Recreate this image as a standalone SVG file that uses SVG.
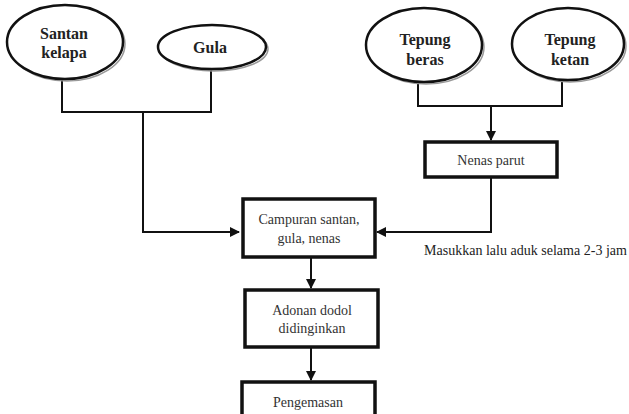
<svg xmlns="http://www.w3.org/2000/svg" width="629" height="414" viewBox="0 0 629 414">
<style>
.ell{fill:#fff;stroke:#111;stroke-width:2.5}
.sh{fill:none;stroke:#999;stroke-width:1.5}
.et{font-family:"Liberation Serif",serif;font-weight:bold;font-size:16px;fill:#222;text-anchor:middle}
.box{fill:#fff;stroke:#111;stroke-width:3.5}
.bt{font-family:"Liberation Serif",serif;font-size:14px;fill:#333;text-anchor:middle}
.ln{fill:none;stroke:#111;stroke-width:2}
</style>
<defs>
<marker id="ah" markerWidth="10" markerHeight="10" refX="9" refY="5" orient="auto" markerUnits="userSpaceOnUse">
<path d="M0,0 L10,5 L0,10 Z" fill="#111"/>
</marker>
</defs>
<rect width="629" height="414" fill="#fff"/>
<g id="connectors">
<path class="ln" d="M62,80 V112 H211 V70"/>
<path class="ln" d="M143,112 V232 H239" marker-end="url(#ah)"/>
<path class="ln" d="M418,82 V106 H562 V80"/>
<path class="ln" d="M491,106 V140" marker-end="url(#ah)"/>
<path class="ln" d="M491,177 V232 H377" marker-end="url(#ah)"/>
<path class="ln" d="M311,257 V288" marker-end="url(#ah)"/>
<path class="ln" d="M311,347 V380" marker-end="url(#ah)"/>
</g>
<g id="santan">
<ellipse class="sh" cx="67" cy="44" rx="58" ry="37"/>
<ellipse class="ell" cx="65" cy="42" rx="58" ry="37"/>
<text class="et" x="64" y="39">Santan</text>
<text class="et" x="64" y="58">kelapa</text>
</g>
<g id="gula">
<ellipse class="sh" cx="214" cy="49" rx="54" ry="22"/>
<ellipse class="ell" cx="212" cy="47" rx="54" ry="22"/>
<text class="et" x="210" y="53">Gula</text>
</g>
<g id="tepung-beras">
<ellipse class="sh" cx="426" cy="47" rx="58" ry="37"/>
<ellipse class="ell" cx="424" cy="45" rx="58" ry="37"/>
<text class="et" x="425" y="45">Tepung</text>
<text class="et" x="425" y="65">beras</text>
</g>
<g id="tepung-ketan">
<ellipse class="sh" cx="570" cy="46" rx="56" ry="36"/>
<ellipse class="ell" cx="568" cy="44" rx="56" ry="36"/>
<text class="et" x="570" y="45">Tepung</text>
<text class="et" x="570" y="65">ketan</text>
</g>
<g id="nenas">
<rect class="box" x="425" y="142" width="132" height="35"/>
<text class="bt" x="491" y="165">Nenas parut</text>
</g>
<g id="campuran">
<rect class="box" x="243" y="199" width="132" height="58"/>
<text class="bt" x="309" y="224">Campuran santan,</text>
<text class="bt" x="309" y="243">gula, nenas</text>
</g>
<g id="label">
<text x="424" y="255" font-family="Liberation Serif,serif" font-size="14px" fill="#222" textLength="203" lengthAdjust="spacingAndGlyphs">Masukkan lalu aduk selama 2-3 jam</text>
</g>
<g id="adonan">
<rect class="box" x="245" y="290" width="133" height="57"/>
<text class="bt" x="312" y="315">Adonan dodol</text>
<text class="bt" x="312" y="333">didinginkan</text>
</g>
<g id="pengemasan">
<rect class="box" x="242" y="382" width="133" height="40"/>
<text class="bt" x="308" y="407">Pengemasan</text>
</g>
</svg>
